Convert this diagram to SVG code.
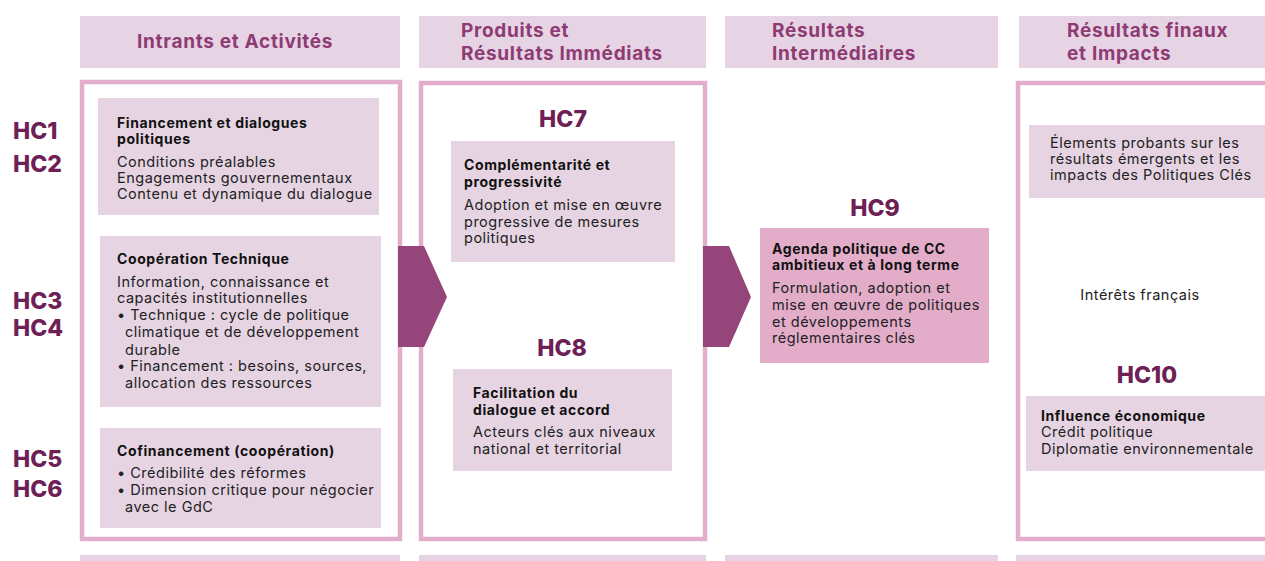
<svg xmlns="http://www.w3.org/2000/svg" width="1265" height="561" viewBox="0 0 1265 561">
<style>
.hdr{fill:#e6d3e3}
.hdt{font-family:Inter,"Noto Sans",sans-serif;font-weight:700;font-size:19px;letter-spacing:0.7px;fill:#8e3b74}
.frame{fill:#fff;stroke:#e3aecb;stroke-width:4.5}
.box{fill:#e6d4e3}
.boxdark{fill:#e3adca}
.hc{font-family:Inter,"Noto Sans",sans-serif;font-weight:800;font-size:23px;fill:#6e1f56}
.b{font-family:Inter,"Noto Sans",sans-serif;font-weight:700;font-size:14px;letter-spacing:0.6px;fill:#111}
.t{font-family:Inter,"Noto Sans",sans-serif;font-weight:400;font-size:14.5px;letter-spacing:0.5px;fill:#222}
.arrow{fill:#95457a}
</style>
<rect width="1265" height="561" fill="#fff"/>
<g id="headers">
<rect class="hdr" x="80" y="16" width="320" height="52"/>
<text class="hdt" x="137" y="48">Intrants et Activités</text>
<rect class="hdr" x="419" y="16" width="287" height="52"/>
<text class="hdt" x="461" y="37">Produits et</text>
<text class="hdt" x="461" y="60">Résultats Immédiats</text>
<rect class="hdr" x="725" y="16" width="273" height="52"/>
<text class="hdt" x="772" y="37">Résultats</text>
<text class="hdt" x="772" y="60">Intermédiaires</text>
<rect class="hdr" x="1019" y="16" width="246" height="52"/>
<text class="hdt" x="1067" y="37">Résultats finaux</text>
<text class="hdt" x="1067" y="60">et Impacts</text>
</g>
<g id="frames">
<rect class="frame" x="82" y="82" width="318" height="457"/>
<rect class="frame" x="421" y="83" width="284" height="456"/>
<rect class="frame" x="1018" y="83" width="260" height="456"/>
</g>
<g id="strips">
<rect class="hdr" x="80" y="555" width="320" height="6"/>
<rect class="hdr" x="419" y="555" width="287" height="6"/>
<rect class="hdr" x="725" y="555" width="273" height="6"/>
<rect class="hdr" x="1016" y="555" width="249" height="6"/>
</g>
<g id="hc-labels">
<text class="hc" x="13" y="139">HC1</text>
<text class="hc" x="13" y="172">HC2</text>
<text class="hc" x="13" y="309">HC3</text>
<text class="hc" x="13" y="336">HC4</text>
<text class="hc" x="13" y="467">HC5</text>
<text class="hc" x="13" y="497">HC6</text>
<text class="hc" x="563" y="127" text-anchor="middle">HC7</text>
<text class="hc" x="562" y="356" text-anchor="middle">HC8</text>
<text class="hc" x="875" y="216" text-anchor="middle">HC9</text>
<text class="hc" x="1147" y="383" text-anchor="middle">HC10</text>
</g>
<g id="node-financement">
<rect class="box" x="98" y="98" width="281" height="117"/>
<text class="b" x="117" y="128">Financement et dialogues</text>
<text class="b" x="117" y="144">politiques</text>
<text class="t" x="117" y="167">Conditions préalables</text>
<text class="t" x="117" y="183">Engagements gouvernementaux</text>
<text class="t" x="117" y="199">Contenu et dynamique du dialogue</text>
</g>
<g id="node-cooperation">
<rect class="box" x="100" y="236" width="281" height="171"/>
<text class="b" x="117" y="264">Coopération Technique</text>
<text class="t" x="117" y="287">Information, connaissance et</text>
<text class="t" x="117" y="303">capacités institutionnelles</text>
<text class="t" x="117" y="320">• Technique : cycle de politique</text>
<text class="t" x="125" y="337">climatique et de développement</text>
<text class="t" x="125" y="355">durable</text>
<text class="t" x="117" y="371">• Financement : besoins, sources,</text>
<text class="t" x="125" y="388">allocation des ressources</text>
</g>
<g id="node-cofinancement">
<rect class="box" x="100" y="428" width="281" height="100"/>
<text class="b" x="117" y="456">Cofinancement (coopération)</text>
<text class="t" x="117" y="478">• Crédibilité des réformes</text>
<text class="t" x="117" y="495">• Dimension critique pour négocier</text>
<text class="t" x="125" y="512">avec le GdC</text>
</g>
<g id="node-hc7">
<rect class="box" x="451" y="141" width="224" height="121"/>
<text class="b" x="464" y="170">Complémentarité et</text>
<text class="b" x="464" y="187">progressivité</text>
<text class="t" x="464" y="210">Adoption et mise en œuvre</text>
<text class="t" x="464" y="227">progressive de mesures</text>
<text class="t" x="464" y="243">politiques</text>
</g>
<g id="node-hc8">
<rect class="box" x="453" y="369" width="219" height="102"/>
<text class="b" x="473" y="398">Facilitation du</text>
<text class="b" x="473" y="415">dialogue et accord</text>
<text class="t" x="473" y="437">Acteurs clés aux niveaux</text>
<text class="t" x="473" y="454">national et territorial</text>
</g>
<g id="node-hc9">
<rect class="boxdark" x="760" y="228" width="229" height="135"/>
<text class="b" x="772" y="254">Agenda politique de CC</text>
<text class="b" x="772" y="270">ambitieux et à long terme</text>
<text class="t" x="772" y="293">Formulation, adoption et</text>
<text class="t" x="772" y="310">mise en œuvre de politiques</text>
<text class="t" x="772" y="327">et développements</text>
<text class="t" x="772" y="343">réglementaires clés</text>
</g>
<g id="node-elements">
<rect class="box" x="1029" y="125" width="236" height="73"/>
<text class="t" x="1050" y="148">Élements probants sur les</text>
<text class="t" x="1050" y="164">résultats émergents et les</text>
<text class="t" x="1050" y="180">impacts des Politiques Clés</text>
</g>
<g id="node-interets">
<text class="t" x="1140" y="300" text-anchor="middle">Intérêts français</text>
</g>
<g id="node-hc10">
<rect class="box" x="1026" y="396" width="239" height="75"/>
<text class="b" x="1041" y="421">Influence économique</text>
<text class="t" x="1041" y="437">Crédit politique</text>
<text class="t" x="1041" y="454">Diplomatie environnementale</text>
</g>
<g id="connectors">
<polygon class="arrow" points="398,246 424,246 447,297 424,347 398,347"/>
<polygon class="arrow" points="703,246 729,246 751,297 729,347 703,347"/>
</g>
</svg>
